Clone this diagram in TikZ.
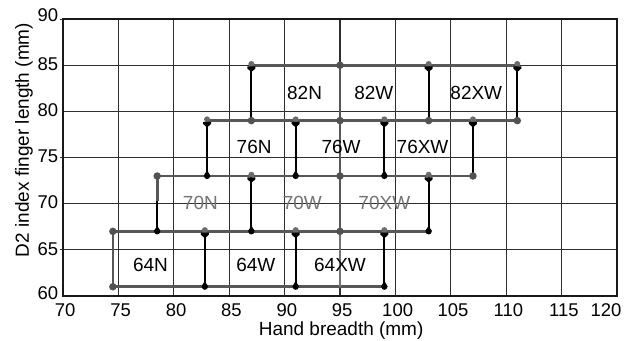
\documentclass[tikz,border=0pt]{standalone}
\usepackage{fontspec}
\setmainfont{Liberation Sans}
\begin{document}
\begin{tikzpicture}[
  gridline/.style={draw=black!82, line width=0.65pt},
  axisline/.style={draw=black!90, line width=1.1pt},
  rail/.style={draw=black!66, line width=1.5pt},
  thinrail/.style={draw=black!55, line width=0.6pt},
  ibeamline/.style={draw=black, line width=1.25pt},
  bigdot/.style={circle, fill=black!68, inner sep=0pt, minimum size=0.15cm},
  topdot/.style={circle, fill=black!58, inner sep=0pt, minimum size=0.12cm},
  lab/.style={font=\fontsize{10.8}{12}\selectfont, inner sep=0pt},
  fadedlab/.style={lab, text=black!55},
  ticklab/.style={font=\fontsize{10.5}{12}\selectfont, inner sep=0pt},
]
\useasboundingbox (0,0) rectangle (12.7cm,6.82cm);
\fill[white] (0,0) rectangle (12.7cm,6.82cm);
\begin{scope}[x=0.2216cm, y=0.1846cm, shift={(-14.252cm,-10.176cm)}]
  % grid
  \foreach \gx in {75,80,...,115} \draw[gridline] (\gx,60) -- (\gx,90);
  \foreach \gy in {65,70,...,85} \draw[gridline] (70,\gy) -- (120,\gy);
  \draw[axisline] (70,90) -- (70,60) -- (120,60) -- (120,90) -- cycle;
  \foreach \gy in {90,75,65} \draw[gridline] (69.7,\gy) -- (70,\gy);
  % tick labels
  \foreach \gx in {70,75,...,115} \node[ticklab] (xt\gx) at (\gx+0.2,58.5) {\gx};
  \node[ticklab] (xt120) at (119.0,58.5) {120};
  \node[ticklab, anchor=east] (yt90) at (69.6,90.4) {90};
  \foreach \gy in {65,70,...,85} \node[ticklab, anchor=east] (yt\gy) at (69.6,\gy+0.12) {\gy};
  \node[ticklab, anchor=east] (yt60) at (69.6,60.3) {60};
  % axis titles
  \node[lab] (xtitle) at (95.1,56.3) {Hand breadth (mm)};
  \node[lab, rotate=90] (ytitle) at (66.48,76.9) {D2 index finger length (mm)};

  % named rail points
  \coordinate (a85) at (87,85);   \coordinate (b85) at (111,85);
  \coordinate (a79) at (83,79);   \coordinate (b79) at (111,79);
  \coordinate (a73) at (78.5,73); \coordinate (b73) at (107,73);
  \coordinate (a67) at (74.5,67); \coordinate (b67) at (103,67);
  \coordinate (a61) at (74.5,61); \coordinate (b61) at (99,61);
  \coordinate (m85) at (95,85); \coordinate (m67) at (95,67); \coordinate (m61) at (95,61);
  \coordinate (l70) at (78.5,70.3); \coordinate (l67) at (78.5,67);

  % rails
  \draw[rail] (a85) -- (b85);
  \draw[rail] (a79) -- (b79);
  \draw[rail] (a73) -- (b73);
  \draw[rail] (a67) -- (b67);
  \draw[rail] (a61) -- (b61);
  \draw[rail] (m85) -- (m67);
  \draw[rail] (a67) -- (a61);
  \draw[rail] (a73) -- (l70);
  \draw[thinrail] (m67) -- (m61);

  % I-beam bars
  \foreach \bx/\bt/\bb in {87/85/79, 103/85/79, 111/85/79,
                           83/79/73, 91/79/73, 99/79/73, 107/79/73,
                           87/73/67, 103/73/67,
                           82.8/67/61, 91/67/61, 99/67/61}
    \draw[ibeamline] (\bx,\bt) -- (\bx,\bb);
  \draw[ibeamline] (l70) -- (l67);

  % big dots
  \foreach \p in {(95,85),(87,79),(95,79),(103,79),(111,79),(78.5,73),(95,73),(107,73),(74.5,67),(95,67),(74.5,61)}
    \node[bigdot] at \p {};
  % small dots at I-beam tops
  \foreach \p in {(87,85),(103,85),(111,85),(83,79),(91,79),(99,79),(107,79),(87,73),(103,73),(82.8,67),(91,67),(99,67)}
    \node[topdot, yshift=0.025cm] at \p {};
  % T caps
  \foreach \bx/\bt in {87/85, 103/85, 111/85, 83/79, 91/79, 99/79, 107/79, 87/73, 103/73, 82.8/67, 91/67, 99/67}
    \fill[black] ([xshift=-0.08cm,yshift=-0.025cm]\bx,\bt) -- ([xshift=0.08cm,yshift=-0.025cm]\bx,\bt)
      -- ([xshift=0.08cm,yshift=-0.065cm]\bx,\bt) -- ([xshift=0.02cm,yshift=-0.12cm]\bx,\bt)
      -- ([xshift=-0.02cm,yshift=-0.12cm]\bx,\bt) -- ([xshift=-0.08cm,yshift=-0.065cm]\bx,\bt) -- cycle;
  % bottom blobs
  \foreach \bx/\bb in {83/73, 91/73, 99/73, 87/67, 103/67, 78.5/67, 82.8/61, 91/61, 99/61} {
    \fill[black] ([xshift=-0.065cm]\bx,\bb) -- ([xshift=0.065cm]\bx,\bb) -- ([yshift=0.12cm]\bx,\bb) -- cycle;
    \fill[black] (\bx,\bb) circle[radius=0.062cm];
  }

  % labels
  \node[lab] (l64n) at (77.9,63.4) {64N};
  \node[lab] (l64w) at (87.4,63.4) {64W};
  \node[lab] (l64xw) at (95.0,63.4) {64XW};
  \node[fadedlab] (l70n) at (82.4,70.1) {70N};
  \node[fadedlab] (l70w) at (91.6,70.1) {70W};
  \node[fadedlab] (l70xw) at (99.0,70.1) {70XW};
  \node[lab] (l76n) at (87.25,76.1) {76N};
  \node[lab] (l76w) at (95.1,76.1) {76W};
  \node[lab] (l76xw) at (102.45,76.1) {76XW};
  \node[lab] (l82n) at (91.8,82.0) {82N};
  \node[lab] (l82w) at (98.05,82.0) {82W};
  \node[lab] (l82xw) at (107.3,82.0) {82XW};
\end{scope}
\end{tikzpicture}
\end{document}
